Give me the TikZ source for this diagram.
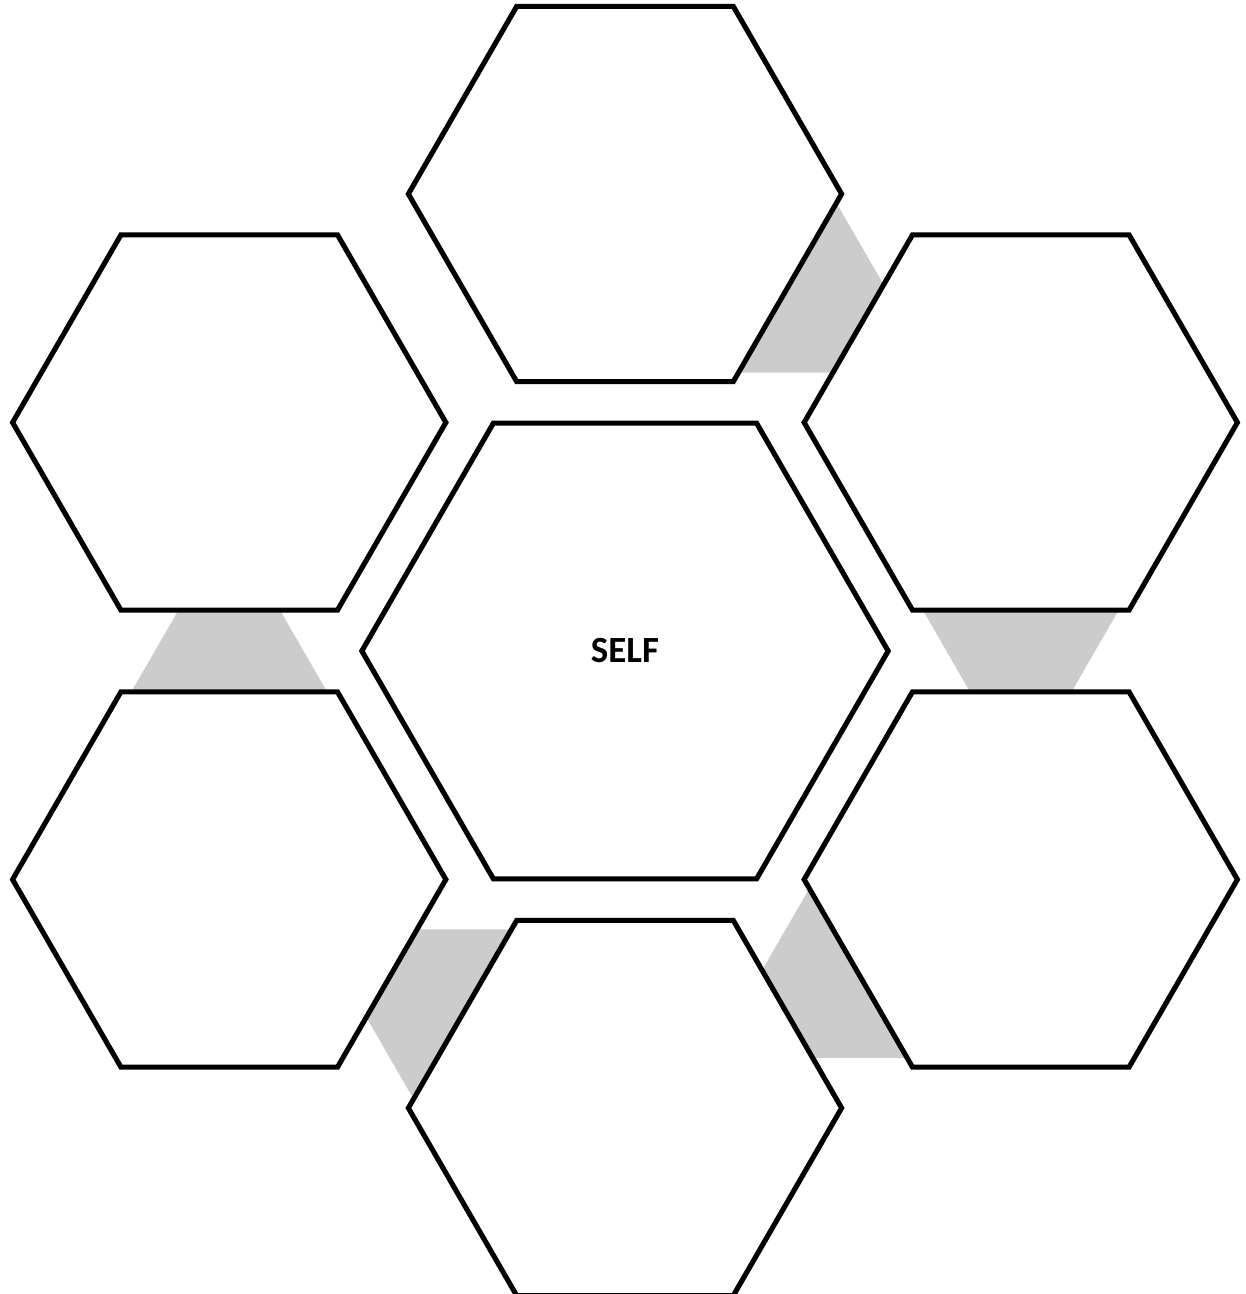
\documentclass[tikz,border=0pt]{standalone}
\usepackage{fontspec}
\setmainfont{Carlito}
\usetikzlibrary{shapes.geometric, calc, backgrounds}
\tikzset{
  hexcell/.style = {regular polygon, regular polygon sides=6, draw, line width=1.45pt, fill=white, inner sep=0pt, minimum size=4.33cm},
  selfcell/.style = {hexcell, minimum size=5.26cm, font=\fontsize{10.5}{12}\selectfont\bfseries},
  link/.style = {fill=black!20}
}
\begin{document}
\begin{tikzpicture}[x=0.01cm, y=0.01cm]
\useasboundingbox (-625,-643) rectangle (620,651);

\node[selfcell] (self) at (0,0) {SELF};
\node[hexcell] (top) at (90:457) {};
\node[hexcell] (tr) at (30:457) {};
\node[hexcell] (br) at (-30:457) {};
\node[hexcell] (bot) at (-90:457) {};
\node[hexcell] (bl) at (210:457) {};
\node[hexcell] (tl) at (150:457) {};

% grey links between neighbouring cells
\begin{scope}[on background layer]
\foreach \p/\q/\a in {top/tr/60, tr/br/0, br/bot/-60, bot/bl/-120, bl/tl/180}
  \fill[link, shift={($(\p)!0.5!(\q)$)}, rotate=\a] (-98,41) -- (98,41) -- (50.7,-41) -- (-50.7,-41) -- cycle;
\end{scope}

\end{tikzpicture}
\end{document}
